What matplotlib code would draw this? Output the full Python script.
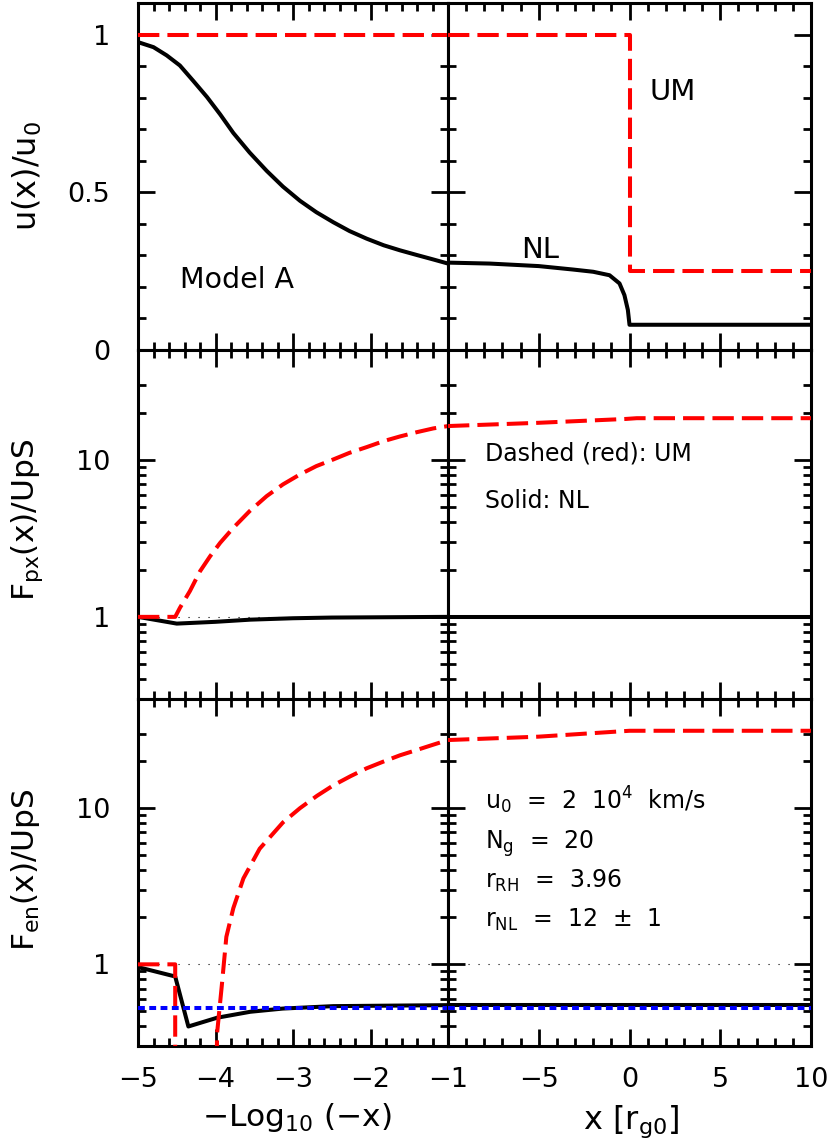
import numpy as np
import matplotlib
matplotlib.use("Agg")
from matplotlib import pyplot as plt
from matplotlib.ticker import MultipleLocator, NullFormatter

plt.rcParams['font.family'] = ['DejaVu Sans']
plt.rcParams['mathtext.default'] = 'regular'

#==========================================================================
# Dati (pannello sinistro: -Log10(-x), destro: x [r_g0])

# u(x)/u0
u_nl_left_x = [-5.0, -4.80, -4.63, -4.46, -4.29, -4.11, -3.94, -3.77, -3.56, -3.34, -3.13, -2.91,
               -2.70, -2.48, -2.27, -2.05, -1.83, -1.62, -1.40, -1.19, -1.0]
u_nl_left_y = [0.976, 0.960, 0.934, 0.902, 0.854, 0.802, 0.747, 0.688, 0.626, 0.568, 0.518, 0.473,
               0.437, 0.405, 0.377, 0.353, 0.332, 0.316, 0.301, 0.287, 0.274]
u_nl_right_x = [-10.0, -7.7, -5.0, -3.1, -2.0, -1.1, -0.55, -0.28, -0.09, 0.0, 10.0]
u_nl_right_y = [0.277, 0.274, 0.266, 0.255, 0.248, 0.237, 0.211, 0.174, 0.127, 0.080, 0.080]
u_um_left_x = [-5.0, -1.0]
u_um_left_y = [1.0, 1.0]
u_um_right_x = [-10.0, 0.0, 0.0, 10.0]
u_um_right_y = [1.0, 1.0, 0.25, 0.25]

# F_px(x)/UpS
px_um_left_x = [-5.0, -4.52, -4.46, -4.33, -4.20, -4.07, -3.94, -3.77, -3.56, -3.34, -3.13, -2.91,
                -2.70, -2.48, -2.27, -2.05, -1.83, -1.62, -1.40, -1.19, -1.0]
px_um_left_y = [1.0, 1.0, 1.14, 1.46, 1.95, 2.43, 2.96, 3.69, 4.71, 5.87, 6.97, 8.07,
                9.11, 10.05, 11.08, 12.04, 13.15, 14.08, 15.0, 15.84, 16.4]
px_nl_left_x = [-5.0, -4.5, -4.0, -3.55, -3.0, -2.5, -1.0]
px_nl_left_y = [1.0, 0.906, 0.93, 0.96, 0.98, 0.99, 1.0]
px_um_right_x = [-10.0, -5.0, -0.2, 0.4, 10.0]
px_um_right_y = [16.4, 17.2, 18.2, 18.4, 18.4]
px_nl_right_x = [-10.0, 10.0]
px_nl_right_y = [1.0, 1.0]

# F_en(x)/UpS  (il ramo UM diventa negativo tra -4.52 e -3.98)
en_um_left_x = [-5.0, -4.52, -4.52, np.nan, -3.99, -3.98, -3.92, -3.86, -3.77, -3.64, -3.43, -3.13,
                -2.91, -2.69, -2.48, -2.26, -2.05, -1.83, -1.62, -1.40, -1.19, -1.0]
en_um_left_y = [1.0, 1.0, 0.1, np.nan, 0.1, 0.36, 0.72, 1.5, 2.29, 3.55, 5.5, 8.1,
                10.0, 12.0, 14.0, 16.0, 18.0, 19.9, 21.8, 23.6, 25.5, 27.3]
en_nl_left_x = [-5.0, -4.52, -4.35, -3.98, -3.55, -3.13, -2.48, -1.0]
en_nl_left_y = [0.96, 0.836, 0.40, 0.455, 0.497, 0.521, 0.54, 0.548]
en_um_right_x = [-10.0, -5.0, 0.0, 10.0]
en_um_right_y = [27.3, 28.7, 31.3, 31.3]
en_nl_right_x = [-10.0, 10.0]
en_nl_right_y = [0.548, 0.548]
en_ref_left_x = [-5.0, -1.0]
en_ref_right_x = [-10.0, 10.0]
en_ref_y = [0.525, 0.525]

one_left_x = [-5.0, -1.0]
one_right_x = [-10.0, 10.0]
one_y = [1.0, 1.0]

#==========================================================================

RED = dict(color='#ff0000', lw=2.9, linestyle=(0, (5.3, 2.0)), zorder=3)
BLACK = dict(color='black', lw=2.9, zorder=2)
BLUE = dict(color='#0000ff', lw=2.9, linestyle=(0, (1.7, 1.1)), zorder=4)
DOT = dict(color='black', lw=0.8, linestyle=(0, (1, 8)), zorder=1)

fig = plt.figure(figsize=(8.3, 11.45), dpi=100)

W, H = 830.0, 1145.0
cols = [(138, 448), (448, 811)]
rows = [(3, 350), (350, 699), (699, 1046)]

axes = []
for (y0, y1) in rows:
    riga = []
    for (x0, x1) in cols:
        ax = fig.add_axes([x0 / W, 1 - y1 / H, (x1 - x0) / W, (y1 - y0) / H])
        riga.append(ax)
    axes.append(riga)


def stile(ax):
    ax.tick_params(which='both', direction='in', top=True, right=True, width=2.0, labelsize=19.5)
    ax.tick_params(axis='x', pad=15)
    ax.tick_params(axis='y', pad=20)
    ax.tick_params(which='major', length=12)
    ax.tick_params(which='minor', length=6)
    for s in ax.spines.values():
        s.set_linewidth(2.2)


minori_log = [0.4, 0.5, 0.6, 0.7, 0.8, 0.9, 2, 3, 4, 5, 6, 7, 8, 9, 20, 30]

for i, riga in enumerate(axes):
    for j, ax in enumerate(riga):
        stile(ax)
        if j == 0:
            ax.set_xlim(-5, -1)
            ax.xaxis.set_major_locator(MultipleLocator(1))
            ax.xaxis.set_minor_locator(MultipleLocator(0.2))
        else:
            ax.set_xlim(-10, 10)
            ax.set_xticks([-10, -5, 0, 5, 10])
            ax.set_xticklabels(['', '\u22125', '0', '5', '10'])
            ax.xaxis.set_minor_locator(MultipleLocator(1))
        if i < 2:
            ax.tick_params(labelbottom=False)
        if i == 0:
            ax.set_ylim(0, 1.1)
            ax.set_yticks([0, 0.5, 1])
            ax.set_yticklabels(['0', '0.5', '1'])
            ax.yaxis.set_minor_locator(MultipleLocator(0.1))
        else:
            ax.set_yscale('log')
            ax.set_ylim(0.3, 50)
            ax.set_yticks([1, 10])
            ax.set_yticklabels(['1', '10'])
            ax.set_yticks(minori_log, minor=True)
            ax.yaxis.set_minor_formatter(NullFormatter())
        if j == 1:
            ax.tick_params(labelleft=False)

# Velocita'
ax = axes[0][0]
ax.plot(u_nl_left_x, u_nl_left_y, **BLACK)
ax.plot(u_um_left_x, u_um_left_y, **RED)
ax.text(-4.458, 0.195, 'Model A', fontsize=20.5, ha='left', va='baseline')
ax = axes[0][1]
ax.plot(u_nl_right_x, u_nl_right_y, **BLACK)
ax.plot(u_um_right_x, u_um_right_y, **RED)
ax.text(-5.98, 0.293, 'NL', fontsize=21, ha='left', va='baseline')
ax.text(1.1, 0.793, 'UM', fontsize=21, ha='left', va='baseline')

# Flusso di impulso
ax = axes[1][0]
ax.plot(one_left_x, one_y, **DOT)
ax.plot(px_nl_left_x, px_nl_left_y, **BLACK)
ax.plot(px_um_left_x, px_um_left_y, **RED)
ax = axes[1][1]
ax.plot(one_right_x, one_y, **DOT)
ax.plot(px_nl_right_x, px_nl_right_y, **BLACK)
ax.plot(px_um_right_x, px_um_right_y, **RED)
ax.text(-7.96, 9.9, 'Dashed (red): UM', fontsize=17, ha='left', va='baseline')
ax.text(-7.96, 4.95, 'Solid: NL', fontsize=17, ha='left', va='baseline')

# Flusso di energia
ax = axes[2][0]
ax.plot(one_left_x, one_y, **DOT)
ax.plot(en_nl_left_x, en_nl_left_y, **BLACK)
ax.plot(en_um_left_x, en_um_left_y, **RED)
ax.plot(en_ref_left_x, en_ref_y, **BLUE)
ax = axes[2][1]
ax.plot(one_right_x, one_y, **DOT)
ax.plot(en_nl_right_x, en_nl_right_y, **BLACK)
ax.plot(en_um_right_x, en_um_right_y, **RED)
ax.plot(en_ref_right_x, en_ref_y, **BLUE)
ax.text(-7.96, 9.76, 'u$_0$  =  2  10$^4$  km/s', fontsize=17, ha='left', va='baseline')
ax.text(-7.96, 5.5, 'N$_g$  =  20', fontsize=17, ha='left', va='baseline')
ax.text(-7.96, 3.1, 'r$_{RH}$  =  3.96', fontsize=17, ha='left', va='baseline')
ax.text(-7.96, 1.73, 'r$_{NL}$  =  12  \u00b1  1', fontsize=17, ha='left', va='baseline')

# Etichette degli assi
fig.text(27 / W, 1 - 176 / H, 'u(x)/u$_0$', fontsize=23, rotation=90, ha='center', va='center')
fig.text(27 / W, 1 - 520 / H, 'F$_{px}$(x)/UpS', fontsize=22.5, rotation=90, ha='center', va='center')
fig.text(26 / W, 1 - 870 / H, 'F$_{en}$(x)/UpS', fontsize=22.5, rotation=90, ha='center', va='center')
fig.text(297 / W, 1 - 1118 / H, '\u2212Log$_{10}$ (\u2212x)', fontsize=22.5, ha='center', va='center')
fig.text(631 / W, 1 - 1122 / H, 'x [r$_{g0}$]', fontsize=23, ha='center', va='center')

plt.savefig('out.png', dpi=100)
